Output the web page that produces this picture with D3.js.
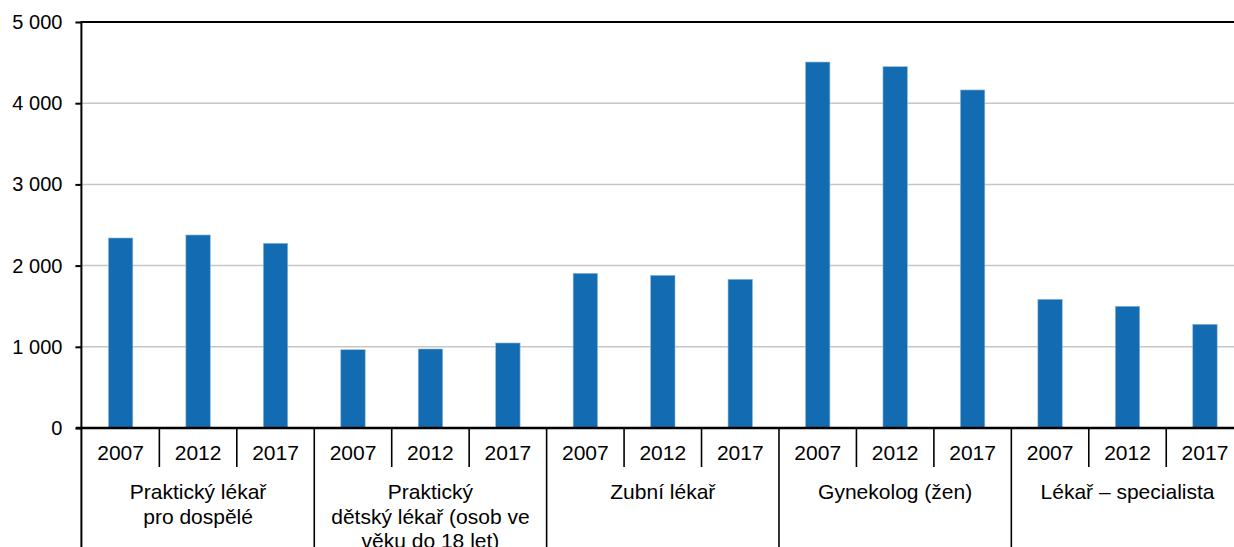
<!DOCTYPE html>
<html>
<head>
<meta charset="utf-8">
<script src="https://cdn.jsdelivr.net/npm/d3@7"></script>
<style>
  html, body { margin: 0; padding: 0; background: #fff; overflow: hidden; }
  svg { display: block; font-family: "Liberation Sans", Arial, sans-serif; }
</style>
</head>
<body>
<svg id="chart" width="1234" height="547"></svg>
<script>
const groups = [
  ["Praktický lékař", "pro dospělé"],
  ["Praktický", "dětský lékař (osob ve", "věku do 18 let)"],
  ["Zubní lékař"],
  ["Gynekolog (žen)"],
  ["Lékař – specialista"]
];
const years = ["2007", "2012", "2017"];
const values = [
  [2340, 2377, 2275],
  [964, 973, 1047],
  [1905, 1880, 1831],
  [4507, 4450, 4163],
  [1585, 1499, 1277]
];
const yTicks = [0, 1000, 2000, 3000, 4000, 5000];

const svg = d3.select("#chart");
const pLeft = 81.9, pRight = 1243.7, pTop = 22, pBottom = 428;

const keys = [];
groups.forEach((g, gi) => years.forEach(yr => keys.push(gi + "|" + yr)));
const x = d3.scaleBand().domain(keys).range([pLeft, pRight]).paddingInner(0).paddingOuter(0);
const y = d3.scaleLinear().domain([0, 5000]).range([pBottom, pTop]);
const fmt = v => d3.format(",")(v).replace(/,/g, " ");

// gridlines
svg.append("g").selectAll("line").data(yTicks.filter(t => t > 0 && t < 5000)).join("line")
  .attr("x1", pLeft).attr("x2", pRight)
  .attr("y1", d => y(d)).attr("y2", d => y(d))
  .attr("stroke", "#c6c6c6").attr("stroke-width", 1.5);

// bars
const data = [];
values.forEach((arr, gi) => arr.forEach((v, yi) => data.push({ key: gi + "|" + years[yi], v })));
const bw = x.bandwidth() * 0.315;
svg.append("g").selectAll("rect").data(data).join("rect")
  .attr("x", d => x(d.key) + (x.bandwidth() - bw) / 2)
  .attr("width", bw)
  .attr("y", d => y(d.v))
  .attr("height", d => y(0) - y(d.v))
  .attr("fill", "#136cb2")
  .attr("stroke", "#8fb8dc").attr("stroke-width", 0.6);

// top border
svg.append("line").attr("x1", pLeft).attr("x2", pRight).attr("y1", pTop).attr("y2", pTop)
  .attr("stroke", "#000").attr("stroke-width", 2);

// y axis
const yAxis = d3.axisLeft(y).tickValues(yTicks).tickSize(6).tickPadding(13).tickFormat(fmt);
const ya = svg.append("g").attr("transform", `translate(${pLeft - 0.5},0)`).call(yAxis);
ya.select(".domain").remove();
ya.selectAll(".tick line").attr("stroke", "#000").attr("stroke-width", 2);
ya.selectAll(".tick text").attr("font-size", 20).attr("fill", "#000")
  .attr("font-family", "Liberation Sans, Arial, sans-serif");
svg.append("line").attr("x1", pLeft - 0.5).attr("x2", pLeft - 0.5).attr("y1", pTop - 1).attr("y2", 547)
  .attr("stroke", "#000").attr("stroke-width", 2);

// baseline
svg.append("line").attr("x1", pLeft - 6).attr("x2", pRight).attr("y1", pBottom).attr("y2", pBottom)
  .attr("stroke", "#000").attr("stroke-width", 2.5);

// category separators
const sep = svg.append("g");
keys.forEach((k, i) => {
  if (i === 0) return;
  const xx = x(k);
  const major = i % 3 === 0;
  sep.append("line").attr("x1", xx).attr("x2", xx)
    .attr("y1", pBottom).attr("y2", major ? 547 : 467)
    .attr("stroke", "#000").attr("stroke-width", 1.6);
});

// year labels
svg.append("g").selectAll("text").data(keys).join("text")
  .attr("x", d => x(d) + x.bandwidth() / 2)
  .attr("y", 460)
  .attr("text-anchor", "middle")
  .attr("font-size", 21)
  .attr("fill", "#000")
  .text(d => d.split("|")[1]);

// group labels
groups.forEach((lines, gi) => {
  const cx = x(gi + "|2007") + x.bandwidth() * 1.5;
  const t = svg.append("text").attr("text-anchor", "middle").attr("font-size", 21).attr("fill", "#000");
  lines.forEach((ln, li) => {
    t.append("tspan").attr("x", cx).attr("y", 499 + li * 24.5).text(ln);
  });
});
</script>
</body>
</html>
